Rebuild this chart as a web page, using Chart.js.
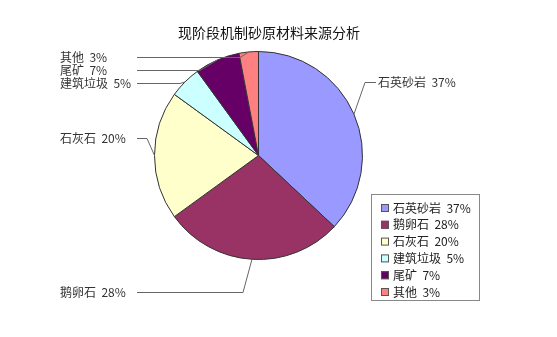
<!DOCTYPE html>
<html>
<head>
<meta charset="utf-8">
<script src="https://cdn.jsdelivr.net/npm/chart.js@4"></script>
<style>
  html,body{margin:0;padding:0;background:#fff;}
  #wrap{width:557px;height:337px;position:relative;}
</style>
</head>
<body>
<div id="wrap"><canvas id="sandChart" width="557" height="337"></canvas></div>
<script>
const chartTitle = '现阶段机制砂原材料来源分析';
const categories = ['石英砂岩','鹅卵石','石灰石','建筑垃圾','尾矿','其他'];
const shares = [37, 28, 20, 5, 7, 3];
const sliceColors = ['#9999FF','#993366','#FFFFCC','#CCFFFF','#660066','#FF8080'];

// where each outside label sits and where its leader line bends
const labelLayout = [
  {tx:378, ty:82,  align:'left', lineFrom:376, elbowX:365},
  {tx:60,  ty:292, align:'left', lineFrom:137, elbowX:243},
  {tx:60,  ty:138, align:'left', lineFrom:137, elbowX:147},
  {tx:60,  ty:83,  align:'left', lineFrom:137, elbowX:180},
  {tx:60,  ty:70,  align:'left', lineFrom:137, elbowX:200},
  {tx:60,  ty:57,  align:'left', lineFrom:137, elbowX:240}
];
const FONT = '"Noto Sans CJK SC","Liberation Sans",sans-serif';
const labelText = i => categories[i] + '  ' + shares[i] + '%';

const decorations = {
  id:'decorations',
  afterDraw(chart){
    const ctx = chart.ctx;
    const arcs = chart.getDatasetMeta(0).data;
    ctx.save();
    // title
    ctx.fillStyle = '#111';
    ctx.font = '14px ' + FONT;
    ctx.textAlign = 'center';
    ctx.textBaseline = 'middle';
    ctx.fillText(chartTitle, 269, 33);

    // outside labels + leader lines
    ctx.font = '12px ' + FONT;
    ctx.strokeStyle = '#666';
    ctx.lineWidth = 1;
    arcs.forEach((arc, i) => {
      const p = arc.getProps(['x','y','startAngle','endAngle','outerRadius'], true);
      const mid = (p.startAngle + p.endAngle) / 2;
      const ax = p.x + Math.cos(mid) * p.outerRadius;
      const ay = p.y + Math.sin(mid) * p.outerRadius;
      const L = labelLayout[i];
      ctx.beginPath();
      ctx.moveTo(L.lineFrom, L.ty + 0.5);
      ctx.lineTo(L.elbowX, L.ty + 0.5);
      ctx.lineTo(ax, ay);
      ctx.stroke();
      ctx.fillStyle = '#333';
      ctx.textAlign = L.align;
      ctx.textBaseline = 'middle';
      ctx.fillText(labelText(i), L.tx, L.ty);
    });

    // legend box
    const lx = 371, ly = 194, lw = 108, lh = 106, step = 16.8;
    ctx.strokeStyle = '#888';
    ctx.strokeRect(lx + 0.5, ly + 0.5, lw, lh);
    ctx.textAlign = 'left';
    ctx.textBaseline = 'middle';
    categories.forEach((c, i) => {
      const cy = ly + 14 + i * step;
      ctx.fillStyle = sliceColors[i];
      ctx.fillRect(381, cy - 4, 8, 8);
      ctx.strokeStyle = '#555';
      ctx.strokeRect(381.5, cy - 3.5, 7, 7);
      ctx.fillStyle = '#222';
      ctx.fillText(labelText(i), 393, cy);
    });
    ctx.restore();
  }
};

new Chart(document.getElementById('sandChart'), {
  type:'pie',
  data:{
    labels:categories,
    datasets:[{
      data:shares,
      backgroundColor:sliceColors,
      borderColor:'#333',
      borderWidth:1
    }]
  },
  options:{
    responsive:false,
    animation:false,
    layout:{padding:{top:50, bottom:76, left:154, right:194}},
    plugins:{legend:{display:false}, tooltip:{enabled:false}, title:{display:false}}
  },
  plugins:[decorations]
});
</script>
</body>
</html>
